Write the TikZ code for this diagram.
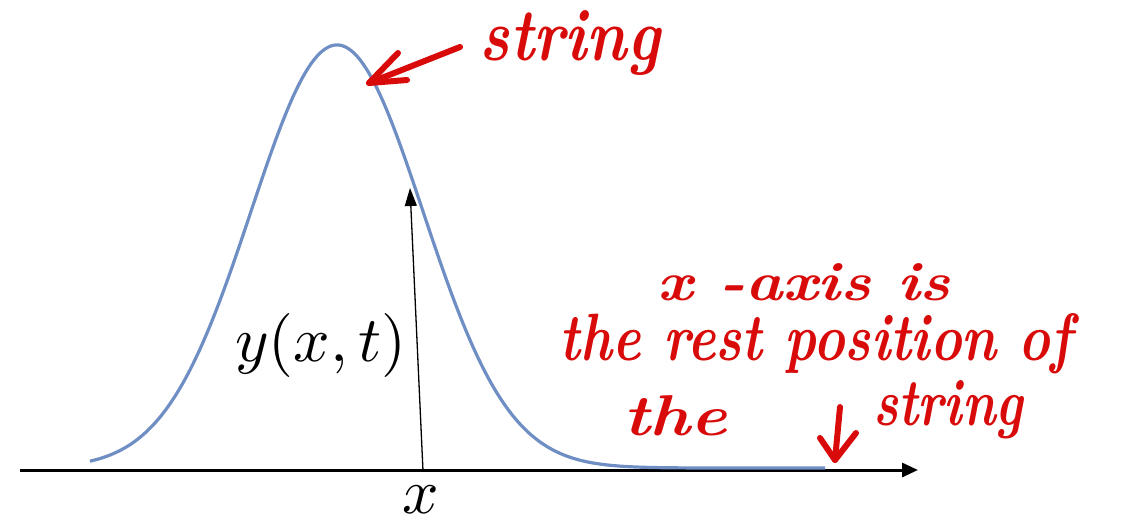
\documentclass[tikz,border=0pt]{standalone}
\usepackage{graphicx}
\usetikzlibrary{arrows.meta}
\definecolor{curveblue}{HTML}{6F8FC4}
\definecolor{inkred}{HTML}{D80A0A}
\tikzset{
  curve/.style={curveblue, line width=3.2pt},
  axis/.style={black, line width=3pt, -{Triangle[length=16pt,width=14pt]}},
  disp/.style={black, line width=1.3pt, -{Triangle[length=18pt,width=12pt]}},
  ink/.style={inkred, line width=6pt, line cap=round, line join=round},
  inktext/.style={inkred, inner sep=0pt, font=\fontsize{46}{50}\selectfont\itshape\bfseries},
  mathlbl/.style={inner sep=0pt}
}
\begin{document}
\begin{tikzpicture}[x=1pt,y=-1pt]
\useasboundingbox (0,0) rectangle (1142,527);
% axis
\coordinate (ax0) at (20,470);
\coordinate (ax1) at (918,470);
\draw[axis] (ax0) -- (ax1);
% string curve
\draw[curve] plot[domain=90:825, samples=240, smooth] (\x, {468-423*exp(-0.5*((\x-337)/86)^2)});
% displacement arrow
\coordinate (foot) at (423,471);
\coordinate (tip) at (410,188);
\draw[disp] (foot) -- (tip);
\node[mathlbl] (ylbl) at (321,345) {\scalebox{6.4}{$y(x,t)$}};
\node[mathlbl] (xlbl) at (421,500) {\scalebox{6.4}{$x$}};
% handwriting: string with arrow
\node[inktext, anchor=base] (str1) at (570,60) {\resizebox{180pt}{50pt}{string}};
\coordinate (a1s) at (460,47);
\coordinate (a1t) at (369,83);
\draw[ink] (a1s) -- (a1t);
\draw[ink] (398,53) -- (a1t) -- (407,80);
% handwriting: explanation
\node[inktext, anchor=base] (l1) at (804,300) {\resizebox{293pt}{37pt}{x -axis is}};
\node[inktext, anchor=base] (l2) at (816,360) {\resizebox{512pt}{47pt}{the rest position of}};
\node[inktext, anchor=base] (l3) at (675,435) {\resizebox{104pt}{40pt}{the}};
\node[inktext, anchor=base] (l4) at (948,425) {\resizebox{150pt}{45pt}{string}};
\coordinate (a2s) at (840,407);
\coordinate (a2t) at (835,460);
\draw[ink] (a2s) -- (a2t);
\draw[ink] (820,438) -- (a2t) -- (856,433);
\end{tikzpicture}
\end{document}
